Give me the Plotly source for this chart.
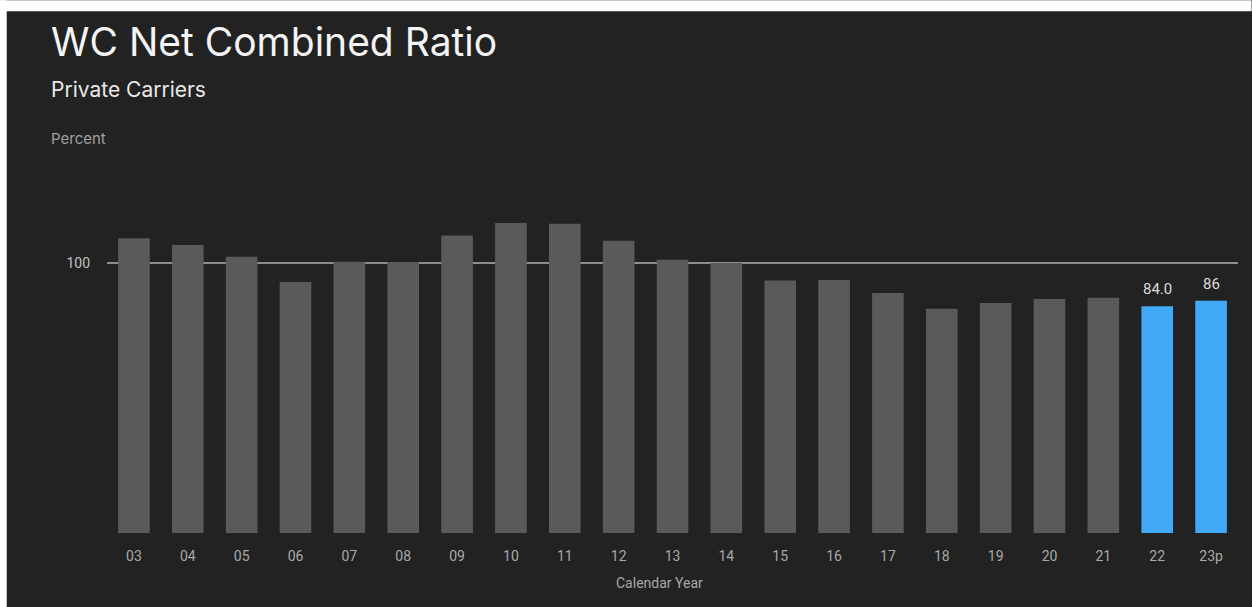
import plotly.graph_objects as go

# ---- data ----
years = ["03", "04", "05", "06", "07", "08", "09", "10", "11", "12", "13",
         "14", "15", "16", "17", "18", "19", "20", "21", "22", "23p"]
ratio = [109.2, 106.7, 102.3, 93.0, 100.5, 100.4, 110.2, 114.8, 114.5, 108.2, 101.2,
         100.0, 93.5, 93.7, 88.9, 83.1, 85.2, 86.7, 87.1, 84.0, 86.0]
highlight = [False] * 19 + [True, True]
value_labels = [""] * 19 + ["84.0", "86"]
y_ticks = [100]

W, H = 1252, 607
L, R, T, B = 107.3, 13.6, 154.7, 74.3
PW, PH = W - L - R, H - T - B
BG = "#222222"
GREY = "#5a5a5a"
BLUE = "#41a9f7"


def px(x):
    return (x - L) / PW


def py(y):
    return 1 - (y - T) / PH


colors = [BLUE if h else GREY for h in highlight]

fig = go.Figure(go.Bar(
    x=years, y=ratio, marker=dict(color=colors, line=dict(width=0)),
    hoverinfo="skip",
))

for i, (v, lab) in enumerate(zip(ratio, value_labels)):
    if lab:
        fig.add_annotation(x=i, y=v, text=lab, showarrow=False, yanchor="bottom",
                           yshift=6, font=dict(color="#dcdcdc", size=15, family="Roboto"))

fig.update_layout(
    width=W, height=H, paper_bgcolor=BG, plot_bgcolor=BG,
    margin=dict(l=L, r=R, t=T, b=B, autoexpand=False),
    bargap=0.413, showlegend=False,
    font=dict(family="Roboto", color="#a8a8a8", size=13),
    xaxis=dict(type="category", showgrid=False, zeroline=False, showline=False,
               ticks="", ticklabelstandoff=13, range=[-0.5, 20.5],
               tickfont=dict(size=14, color="#a8a8a8", family="Roboto")),
    yaxis=dict(range=[0, 140], tickvals=y_ticks, showgrid=True, gridcolor="#8e8e8e",
               gridwidth=2, zeroline=False, showline=False, ticks="",
               ticklabelstandoff=16,
               tickfont=dict(size=14, color="#c0c0c0", family="Roboto")),
)

annos = [
    dict(text="WC Net Combined Ratio", x=px(49), y=py(41), size=39, color="#f4f4f4",
         family="Inter"),
    dict(text="Private Carriers", x=px(49), y=py(89), size=21, color="#e8e8e8",
         family="Inter"),
    dict(text="Percent", x=px(49), y=py(138.5), size=15, color="#a0a0a0",
         family="Inter"),
]
for a in annos:
    fig.add_annotation(text=a["text"], x=a["x"], y=a["y"], xref="paper", yref="paper",
                       xanchor="left", yanchor="middle", showarrow=False,
                       font=dict(size=a["size"], color=a["color"], family=a["family"]))

fig.add_annotation(text="Calendar Year", x=px(660), y=py(583), xref="paper", yref="paper",
                   xanchor="center", yanchor="middle", showarrow=False,
                   font=dict(size=14, color="#a8a8a8", family="Roboto"))

# white screenshot border (left and top)
fig.add_shape(type="rect", xref="paper", yref="paper", x0=px(0), x1=px(7), y0=py(H), y1=py(0),
              fillcolor="white", line=dict(width=0), layer="above")
fig.add_shape(type="rect", xref="paper", yref="paper", x0=px(0), x1=px(W), y0=py(11), y1=py(0),
              fillcolor="white", line=dict(width=0), layer="above")

fig.write_html("out.html")
